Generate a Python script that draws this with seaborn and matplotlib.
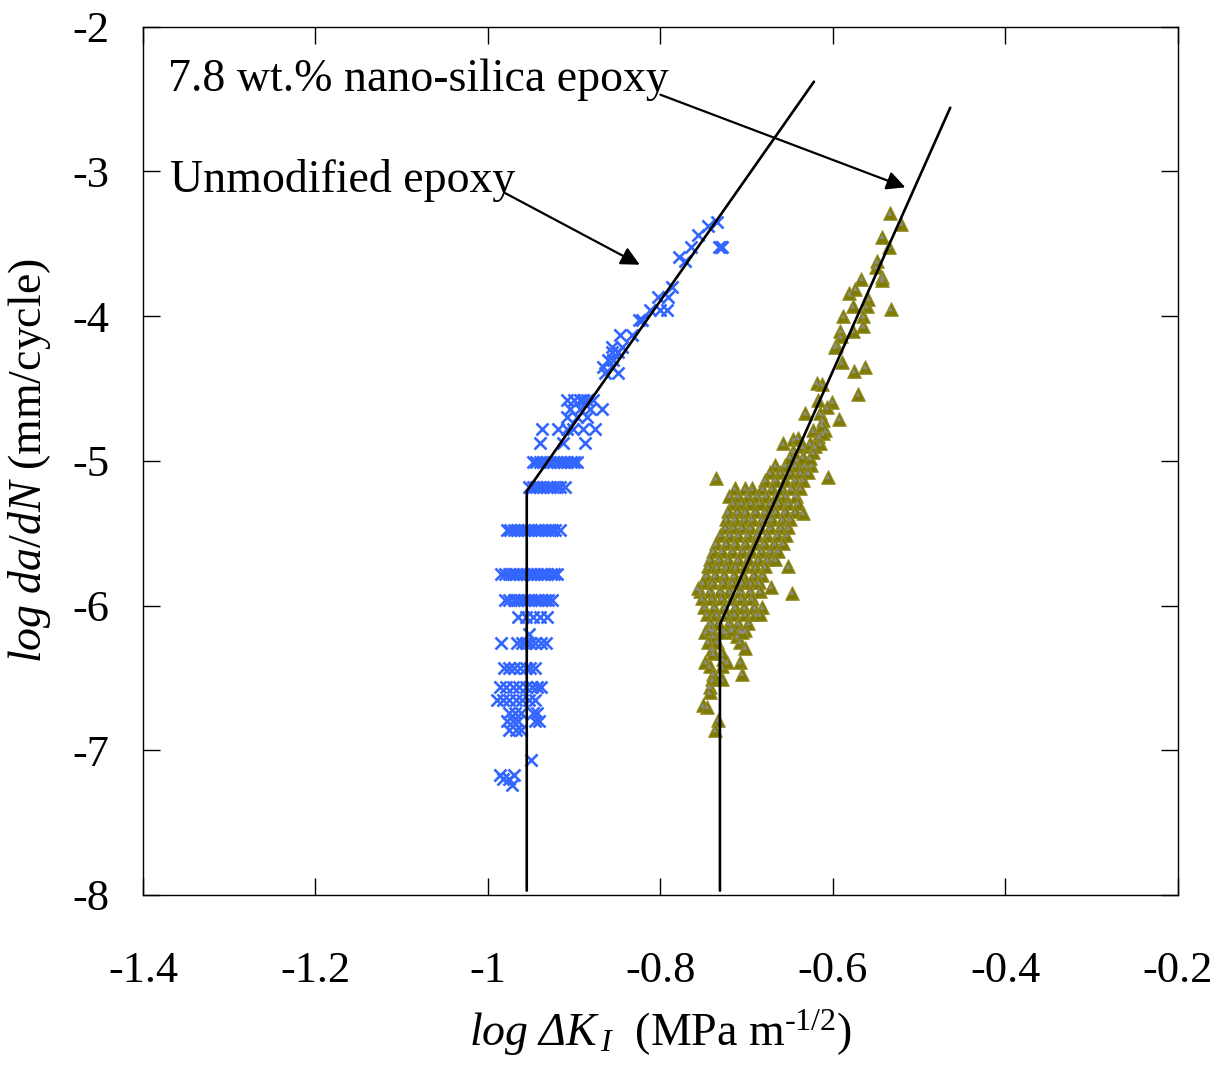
import numpy as np
import pandas as pd
import matplotlib
matplotlib.use('Agg')
import matplotlib.pyplot as plt
import seaborn as sns
from matplotlib.ticker import FormatStrFormatter

# ---- data (log dK, log da/dN) ----
# unmodified epoxy, grouped by da/dN level
unmod_rows = {
    -7.24: [-0.972],
    -7.20: [-0.982, -0.975],
    -7.17: [-0.986, -0.970],
    -7.07: [-0.950],
    -6.86: [-0.975, -0.968, -0.962],
    -6.80: [-0.978, -0.971, -0.965, -0.946, -0.941],
    -6.74: [-0.976, -0.969, -0.962, -0.948, -0.943],
    -6.65: [-0.990, -0.983, -0.976, -0.968, -0.960, -0.952, -0.946],
    -6.56: [-0.986, -0.979, -0.971, -0.964, -0.956, -0.949, -0.943, -0.938],
    -6.43: [-0.981, -0.976, -0.970, -0.963, -0.956, -0.951, -0.946],
    -6.26: [-0.985, -0.966, -0.961, -0.956, -0.951, -0.945, -0.939, -0.933],
    -6.20: [-0.952],
    -6.08: [-0.965, -0.956, -0.948, -0.940, -0.932],
    -5.96: [-0.980, -0.975, -0.970, -0.966, -0.962, -0.958, -0.954, -0.950,
            -0.946, -0.942, -0.938, -0.934, -0.930, -0.926],
    -5.78: [-0.985, -0.980, -0.975, -0.971, -0.967, -0.963, -0.959, -0.955,
            -0.951, -0.947, -0.943, -0.939, -0.935, -0.931, -0.927, -0.923, -0.920],
    -5.48: [-0.978, -0.974, -0.970, -0.966, -0.962, -0.958, -0.954, -0.950,
            -0.946, -0.942, -0.938, -0.934, -0.930, -0.926, -0.922, -0.917],
    -5.18: [-0.952, -0.948, -0.944, -0.940, -0.936, -0.932, -0.928, -0.924,
            -0.920, -0.916, -0.911],
    -5.01: [-0.948, -0.944, -0.940, -0.936, -0.932, -0.928, -0.924, -0.920,
            -0.916, -0.912, -0.908, -0.904, -0.900, -0.897],
    -4.88: [-0.940, -0.913, -0.888],
    -4.78: [-0.937, -0.919, -0.908, -0.901, -0.890, -0.876],
    -4.70: [-0.908, -0.897, -0.885],
    -4.64: [-0.905, -0.893, -0.882, -0.868],
    -4.58: [-0.908, -0.900, -0.893, -0.890, -0.885, -0.878],
    -4.39: [-0.864, -0.849],
    -4.35: [-0.867, -0.856],
    -4.30: [-0.861, -0.855],
    -4.25: [-0.856, -0.849],
    -4.21: [-0.856, -0.845],
    -4.13: [-0.847, -0.833],
    -4.03: [-0.825, -0.821],
    -3.96: [-0.812, -0.801, -0.792],
    -3.87: [-0.803, -0.791],
    -3.80: [-0.787],
    -3.62: [-0.772],
    -3.59: [-0.779],
    -3.52: [-0.765, -0.732, -0.729, -0.730],
    -3.44: [-0.757],
    -3.38: [-0.745],
    -3.35: [-0.734],
}

# 7.8 wt.% nano-silica epoxy, dense cloud grouped by da/dN level
nano_rows = {
    -5.03: [-0.667, -0.656, -0.644, -0.633, -0.625],
    -5.08: [-0.673, -0.661, -0.650, -0.638, -0.629],
    -5.13: [-0.679, -0.667, -0.656, -0.644, -0.635],
    -5.19: [-0.714, -0.702, -0.694, -0.682, -0.671, -0.659, -0.648, -0.638],
    -5.24: [-0.720, -0.710, -0.699, -0.688, -0.678, -0.666, -0.655, -0.643],
    -5.29: [-0.716, -0.706, -0.695, -0.685, -0.673, -0.663, -0.652, -0.641],
    -5.35: [-0.722, -0.711, -0.702, -0.690, -0.679, -0.667, -0.656, -0.644],
    -5.40: [-0.724, -0.714, -0.703, -0.694, -0.682, -0.671, -0.659, -0.650],
    -5.46: [-0.725, -0.716, -0.706, -0.696, -0.685, -0.673, -0.661, -0.652],
    -5.51: [-0.731, -0.720, -0.710, -0.699, -0.688, -0.676, -0.665, -0.654],
    -5.57: [-0.736, -0.724, -0.714, -0.702, -0.690, -0.680, -0.668, -0.658],
    -5.62: [-0.739, -0.729, -0.717, -0.705, -0.695, -0.683, -0.673, -0.664],
    -5.68: [-0.743, -0.732, -0.722, -0.710, -0.699, -0.687, -0.676, -0.667],
    -5.73: [-0.745, -0.735, -0.724, -0.713, -0.702, -0.690, -0.679],
    -5.79: [-0.747, -0.737, -0.726, -0.715, -0.704, -0.692, -0.682],
    -5.84: [-0.751, -0.740, -0.728, -0.717, -0.706, -0.696, -0.686],
    -5.90: [-0.754, -0.743, -0.731, -0.720, -0.708, -0.696, -0.685],
    -5.95: [-0.752, -0.740, -0.729, -0.717, -0.706, -0.694],
    -6.01: [-0.749, -0.738, -0.726, -0.714, -0.703, -0.691, -0.682],
    -6.06: [-0.746, -0.735, -0.724, -0.714, -0.702, -0.690, -0.685],
    -6.12: [-0.743, -0.733, -0.721, -0.710, -0.698],
    -6.17: [-0.740, -0.729, -0.718, -0.708, -0.702],
}

# nano-silica, scattered points outside the dense cloud
nano_x = [-0.534, -0.521, -0.543, -0.535, -0.549, -0.550, -0.543, -0.543, -0.567,
          -0.581, -0.574, -0.559, -0.577, -0.561, -0.533, -0.588, -0.565, -0.565,
          -0.577, -0.592, -0.591, -0.597, -0.598, -0.590, -0.563, -0.576, -0.571,
          -0.619, -0.613, -0.617, -0.601, -0.607, -0.632, -0.593, -0.615, -0.612,
          -0.623, -0.609, -0.617, -0.612, -0.613,
          -0.658, -0.646, -0.641, -0.646, -0.635, -0.627, -0.621, -0.615, -0.650,
          -0.642, -0.635, -0.627, -0.623,
          -0.606, -0.736, -0.635, -0.652, -0.648, -0.672, -0.757,
          -0.748, -0.743, -0.739, -0.745, -0.740, -0.734, -0.725, -0.717, -0.711,
          -0.708, -0.705, -0.702, -0.708, -0.706, -0.748, -0.743, -0.739, -0.740,
          -0.743, -0.743, -0.729, -0.729, -0.728, -0.723, -0.739, -0.729,
          -0.751, -0.746, -0.733, -0.737]
nano_y = [-3.29, -3.36, -3.45, -3.52, -3.62, -3.66, -3.73, -3.75, -3.74,
          -3.84, -3.81, -3.88, -3.93, -3.93, -3.95, -4.00, -4.00, -4.07,
          -4.10, -4.10, -4.14, -4.20, -4.21, -4.32, -4.35, -4.38, -4.54,
          -4.46, -4.47, -4.58, -4.59, -4.63, -4.67, -4.71, -4.67, -4.72,
          -4.79, -4.79, -4.83, -4.81, -4.75,
          -4.88, -4.85, -4.84, -4.93, -4.90, -4.88, -4.90, -4.88, -4.97,
          -4.99, -4.97, -4.98, -4.94,
          -5.11, -5.12, -5.36, -5.73, -5.91, -5.87, -5.88,
          -6.18, -6.16, -6.21, -6.25, -6.30, -6.25, -6.18, -6.16, -6.21,
          -6.25, -6.18, -6.29, -6.39, -6.47, -6.39, -6.42, -6.47, -6.51,
          -6.56, -6.60, -6.42, -6.51, -6.37, -6.39, -6.33, -6.33,
          -6.69, -6.70, -6.79, -6.86]

# bilinear fit lines (threshold then Paris regime)
unmod_fit_x = [-0.955, -0.955, -0.622]
unmod_fit_y = [-7.97, -5.21, -2.38]
nano_fit_x = [-0.731, -0.731, -0.464]
nano_fit_y = [-7.97, -6.13, -2.56]

x_ticks = [-1.4, -1.2, -1.0, -0.8, -0.6, -0.4, -0.2]
y_ticks = [-8, -7, -6, -5, -4, -3, -2]


def rows_to_frame(rows, extra_x=(), extra_y=()):
    xs, ys = [], []
    for yv, xl in rows.items():
        xs += xl
        ys += [yv] * len(xl)
    xs += list(extra_x)
    ys += list(extra_y)
    return pd.DataFrame({'dK': xs, 'dadN': ys})


unmod = rows_to_frame(unmod_rows)
nano = rows_to_frame(nano_rows, nano_x, nano_y)

sns.set_style('ticks')
plt.rcParams['font.family'] = ['Liberation Serif', 'DejaVu Serif']
plt.rcParams['mathtext.fontset'] = 'custom'
plt.rcParams['mathtext.rm'] = 'Liberation Serif'
plt.rcParams['mathtext.it'] = 'Liberation Serif:italic'
# italic capital Greek (mathtext keeps \mathit Greek capitals upright)
plt.rcParams['mathtext.sf'] = 'Liberation Serif:italic'
plt.rcParams['text.color'] = 'black'
plt.rcParams['axes.labelcolor'] = 'black'

fig = plt.figure(figsize=(12.27, 10.68), dpi=100)
ax = fig.add_axes([0.1165, 0.162, 0.8435, 0.813])

sns.scatterplot(data=unmod, x='dK', y='dadN', marker='x', s=75, color='#3366ff',
                linewidth=1.9, ax=ax, zorder=3)
sns.scatterplot(data=nano, x='dK', y='dadN', marker='^', s=95, color='#7f7a00',
                edgecolor='#938e2a', linewidth=0.8, ax=ax, zorder=2)
sns.scatterplot(data=nano, x='dK', y='dadN', marker='^', s=12, color='#8c8c8c',
                edgecolor='none', ax=ax, zorder=2)

ax.plot(unmod_fit_x, unmod_fit_y, color='black', lw=1.9, zorder=4)
ax.plot(nano_fit_x, nano_fit_y, color='black', lw=1.9, zorder=4)

ax.text(-1.371, -2.37, '7.8 wt.% nano-silica epoxy', fontsize=33, va='center', ha='left')
ax.text(-1.369, -3.06, 'Unmodified epoxy', fontsize=33, va='center', ha='left')
arrow = dict(arrowstyle='-|>', color='black', lw=1.6, mutation_scale=28, shrinkA=0, shrinkB=0)
ax.annotate('', xy=(-0.516, -3.11), xytext=(-0.800, -2.47), arrowprops=arrow)
ax.annotate('', xy=(-0.824, -3.645), xytext=(-0.980, -3.15), arrowprops=arrow)

ax.set_xlim(-1.4, -0.2)
ax.set_ylim(-8, -2)
ax.set_xticks(x_ticks)
ax.set_yticks(y_ticks)
ax.xaxis.set_major_formatter(FormatStrFormatter('%g'))
ax.yaxis.set_major_formatter(FormatStrFormatter('%g'))
ax.tick_params(direction='in', length=12, width=1, top=True, right=True,
               labelsize=32, color='black', labelcolor='black')
ax.tick_params(axis='x', pad=40)
ax.tick_params(axis='y', pad=24)
for sp in ax.spines.values():
    sp.set_color('black')
    sp.set_linewidth(1)

ax.set_xlabel(r'$log\ \mathsf{\Delta}K_{\,I}$  (MPa m$^{\text{-1/2}}$)', fontsize=33, labelpad=12)
ax.set_ylabel(r'$log\ da/dN$ (mm/cycle)', fontsize=33, labelpad=14)

fig.savefig('out.png', dpi=100, facecolor='white')
